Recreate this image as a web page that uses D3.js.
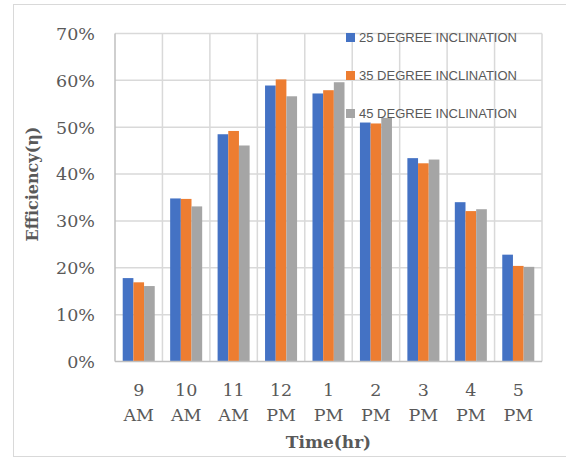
<!DOCTYPE html>
<html>
<head>
<meta charset="utf-8">
<script src="https://cdn.jsdelivr.net/npm/d3@7/dist/d3.min.js"></script>
<style>
  html, body { margin: 0; padding: 0; background: #fff; }
  svg { display: block; }
</style>
</head>
<body>
<script>
const timesTop = ["9", "10", "11", "12", "1", "2", "3", "4", "5"];
const timesBottom = ["AM", "AM", "AM", "PM", "PM", "PM", "PM", "PM", "PM"];
const seriesNames = ["25 DEGREE INCLINATION", "35 DEGREE INCLINATION", "45 DEGREE INCLINATION"];
const deg25 = [17.8, 34.8, 48.5, 58.9, 57.2, 51.0, 43.4, 34.0, 22.8];
const deg35 = [16.9, 34.7, 49.2, 60.2, 57.9, 50.8, 42.3, 32.1, 20.4];
const deg45 = [16.1, 33.1, 46.1, 56.6, 59.6, 52.0, 43.1, 32.5, 20.2];
const yTicks = [0, 10, 20, 30, 40, 50, 60, 70];
const colors = ["#4472C4", "#ED7D31", "#A5A5A5"];

const W = 566, H = 457;
const pL = 115, pR = 542, pT = 33.5, pB = 361.5;

const svg = d3.select("body").append("svg").attr("width", W).attr("height", H);

// outer chart border
svg.append("rect").attr("x", 13.5).attr("y", 4.5).attr("width", 560).attr("height", 452)
  .attr("fill", "#fff").attr("stroke", "#d9d9d9").attr("stroke-width", 1);

const cats = d3.range(timesTop.length);
const x0 = d3.scaleBand().domain(cats).range([pL, pR]).paddingInner(0.325).paddingOuter(0.1625);
const x1 = d3.scaleBand().domain(d3.range(3)).range([0, x0.bandwidth()]);
const y = d3.scaleLinear().domain([0, 70]).range([pB, pT]);

const step = x0.step();
const offset = (step - x0.bandwidth()) / 2;

// horizontal gridlines
svg.append("g").selectAll("line").data(yTicks.filter(d => d > 0)).join("line")
  .attr("x1", pL).attr("x2", pR)
  .attr("y1", d => y(d)).attr("y2", d => y(d))
  .attr("stroke", "#d9d9d9").attr("stroke-width", 1.5);

// vertical gridlines at category boundaries
svg.append("g").selectAll("line").data(cats.map(c => x0(c) + x0.bandwidth() + offset)).join("line")
  .attr("x1", d => d).attr("x2", d => d)
  .attr("y1", pT).attr("y2", pB)
  .attr("stroke", "#d9d9d9").attr("stroke-width", 1.5);

// bars
const series = [deg25, deg35, deg45];
const g = svg.append("g");
cats.forEach(c => {
  series.forEach((s, i) => {
    g.append("rect")
      .attr("x", x0(c) + x1(i))
      .attr("width", x1.bandwidth())
      .attr("y", y(s[c]))
      .attr("height", y(0) - y(s[c]))
      .attr("fill", colors[i]);
  });
});

// axis lines
svg.append("line").attr("x1", pL).attr("x2", pL).attr("y1", pT).attr("y2", pB)
  .attr("stroke", "#bfbfbf").attr("stroke-width", 1.5);
svg.append("line").attr("x1", pL).attr("x2", pR).attr("y1", pB).attr("y2", pB)
  .attr("stroke", "#bfbfbf").attr("stroke-width", 1.5);

const serif = "'DejaVu Serif', serif";

// y tick labels
svg.append("g").selectAll("text").data(yTicks).join("text")
  .attr("x", 95).attr("y", d => y(d)).attr("dy", "0.36em")
  .attr("text-anchor", "end")
  .attr("font-family", serif).attr("font-size", 17.5).attr("fill", "#595959")
  .text(d => d + "%");

// x tick labels
const xl = svg.append("g");
cats.forEach(c => {
  const cx = x0(c) + x0.bandwidth() / 2;
  const t = xl.append("text").attr("text-anchor", "middle")
    .attr("font-family", serif).attr("font-size", 17.5).attr("fill", "#595959");
  t.append("tspan").attr("x", cx).attr("y", 396).text(timesTop[c]);
  t.append("tspan").attr("x", cx).attr("y", 421).text(timesBottom[c]);
});

// axis titles
svg.append("text").attr("x", (pL + pR) / 2).attr("y", 448)
  .attr("text-anchor", "middle").attr("font-family", serif).attr("font-weight", "bold")
  .attr("font-size", 17).attr("fill", "#595959").text("Time(hr)");

svg.append("text").attr("transform", "translate(38,184) rotate(-90)")
  .attr("text-anchor", "middle").attr("font-family", serif).attr("font-weight", "bold")
  .attr("font-size", 16).attr("fill", "#595959").text("Efficiency(η)");

// legend
const lg = svg.append("g");
seriesNames.forEach((n, i) => {
  const ly = 37.5 + i * 38;
  lg.append("rect").attr("x", 346).attr("y", ly - 4.5).attr("width", 9).attr("height", 9).attr("fill", colors[i]);
  lg.append("text").attr("x", 359).attr("y", ly).attr("dy", "0.36em")
    .attr("font-family", "'Liberation Sans', Arial, sans-serif").attr("font-size", 13)
    .attr("fill", "#595959").text(n);
});
</script>
</body>
</html>
